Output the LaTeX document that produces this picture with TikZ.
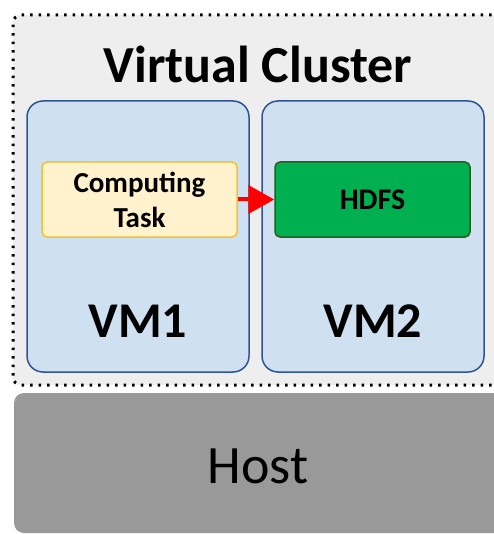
\documentclass[tikz,border=0pt]{standalone}
\usepackage{fontspec}
\setmainfont{Carlito}
\usetikzlibrary{arrows.meta}
\definecolor{clusterbg}{HTML}{EEEEEE}
\definecolor{vmfill}{HTML}{CFE0F1}
\definecolor{vmdraw}{HTML}{2F5597}
\definecolor{taskfill}{HTML}{FFF2CC}
\definecolor{taskdraw}{HTML}{F2C230}
\definecolor{hdfsfill}{HTML}{00B050}
\definecolor{hdfsdraw}{HTML}{2D5A1E}
\definecolor{hostfill}{HTML}{999999}
\begin{document}
\begin{tikzpicture}[x=1pt,y=-1pt,
  vmbox/.style={draw=vmdraw,fill=vmfill,line width=1.5pt,rounded corners=16pt},
  smallbox/.style={line width=1.5pt,rounded corners=5pt},
  lbl/.style={font=\fontsize{#1}{#1}\selectfont\bfseries,inner sep=0pt,anchor=base}]
\useasboundingbox (0,0) rectangle (493,534);
% cluster
\path[fill=clusterbg,rounded corners=8pt] (13,15) -- (500,15) -- (500,385) -- (13,385) -- cycle;
\draw[black,line width=3pt,dash pattern=on 2.5pt off 6pt,rounded corners=8pt] (500,15) -- (13,15) -- (13,385) -- (500,385);
\node[lbl=52] (title) at (258,83) {Virtual Cluster};
% VMs
\draw[vmbox] (27,101) rectangle (249,372);
\draw[vmbox] (262,101) rectangle (484,372);
\node[lbl=50] (vm1) at (138,337) {VM1};
\node[lbl=50] (vm2) at (373,337) {VM2};
% inner
\node[smallbox,draw=taskdraw,fill=taskfill,minimum width=195pt,minimum height=75pt,
  align=center,font=\fontsize{29}{35}\selectfont\bfseries] (task) at (139.5,199.5) {Computing\\Task};
\node[smallbox,draw=hdfsdraw,fill=hdfsfill,minimum width=195pt,minimum height=75pt,
  font=\fontsize{30}{32}\selectfont\bfseries] (hdfs) at (372.5,199.5) {HDFS};
\draw[red,line width=4pt,-{Triangle[length=26pt,width=28pt]}] (task.east) -- (hdfs.west);
% host
\path[fill=hostfill,rounded corners=10pt] (14,393) -- (510,393) -- (510,533) -- (14,533) -- cycle;
\node[font=\fontsize{54}{54}\selectfont,inner sep=0pt,anchor=base] (host) at (258,483) {Host};
\end{tikzpicture}
\end{document}
